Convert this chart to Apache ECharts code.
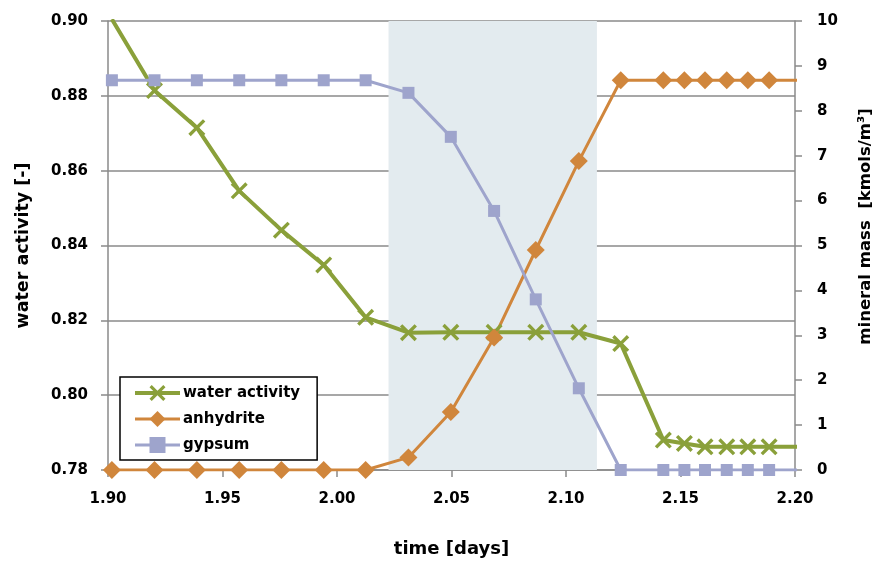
<!DOCTYPE html>
<html>
<head>
<meta charset="utf-8">
<script src="https://cdn.jsdelivr.net/npm/echarts@6/dist/echarts.min.js"></script>
<style>
html,body{margin:0;padding:0;background:#fff;}
#chart{width:883px;height:563px;}
</style>
</head>
<body>
<div id="chart"></div>
<script>
// time points (days); the last point lies beyond the axis max and is clipped
const times = [1.9017, 1.9203, 1.9388, 1.9573, 1.9757, 1.9942, 2.0125, 2.0312, 2.0497, 2.0686,
               2.0868, 2.1056, 2.1239, 2.1425, 2.1517, 2.1607, 2.1702, 2.1794, 2.1887, 2.2100];
const waterActivity = [0.9005, 0.8814, 0.8715, 0.8546, 0.8441, 0.8348, 0.8208, 0.8167, 0.8168, 0.8168,
                       0.8168, 0.8168, 0.8138, 0.7880, 0.7871, 0.7862, 0.7862, 0.7862, 0.7862, 0.7862];
const anhydrite = [0, 0, 0, 0, 0, 0, 0, 0.28, 1.29, 2.95,
                   4.90, 6.88, 8.68, 8.68, 8.68, 8.68, 8.68, 8.68, 8.68, 8.68];
const gypsum = [8.68, 8.68, 8.68, 8.68, 8.68, 8.68, 8.68, 8.40, 7.42, 5.77,
                3.80, 1.82, 0, 0, 0, 0, 0, 0, 0, 0];
const seriesNames = ['water activity', 'anhydrite', 'gypsum'];
const shadedRange = [2.0225, 2.1135];
const xTicks = {min: 1.90, max: 2.20, interval: 0.05};
const leftTicks = {min: 0.78, max: 0.90, interval: 0.02};
const rightTicks = {min: 0, max: 10, interval: 1};

const FONT = 'DejaVu Sans';
const GRID_COLOR = '#8a8a8a';
const pair = (arr) => times.map((t, i) => [t, arr[i]]);
const xSymbol = 'path://M0,1.4 L1.4,0 L5,3.6 L8.6,0 L10,1.4 L6.4,5 L10,8.6 L8.6,10 L5,6.4 L1.4,10 L0,8.6 L3.6,5 Z';

// water activity: first point sits on the top edge where its marker is clipped away in the original
const waterData = pair(waterActivity).map((p, i) => i === 0 ? {value: p, symbol: 'none'} : p);

const chart = echarts.init(document.getElementById('chart'), null, {renderer: 'canvas'});
const axisCommon = {
  axisLine: {show: true, lineStyle: {color: GRID_COLOR, width: 1.5}},
  axisTick: {show: true, inside: false, length: 7, lineStyle: {color: GRID_COLOR, width: 1.5}},
  axisLabel: {color: '#000', fontFamily: FONT, fontWeight: 'bold', fontSize: 15},
  nameTextStyle: {color: '#000', fontFamily: FONT, fontWeight: 'bold'}
};
chart.setOption({
  animation: false,
  backgroundColor: '#fff',
  grid: {left: 108, right: 88, top: 21, bottom: 93, containLabel: false},
  legend: {
    orient: 'vertical', left: 120, top: 377,
    padding: [6, 17, 5, 13],
    backgroundColor: '#fff', borderColor: '#000', borderWidth: 1.5, borderRadius: 0,
    itemWidth: 45, itemHeight: 20, itemGap: 6,
    data: [
      {name: seriesNames[0], lineStyle: {width: 4}},
      {name: seriesNames[1], lineStyle: {width: 3}},
      {name: seriesNames[2], lineStyle: {width: 3}}
    ],
    textStyle: {color: '#000', fontFamily: FONT, fontWeight: 'bold', fontSize: 15, lineHeight: 20, padding: [0, 0, 0, -2]}
  },
  xAxis: Object.assign({}, axisCommon, {
    type: 'value', min: xTicks.min, max: xTicks.max, interval: xTicks.interval,
    name: 'time [days]', nameLocation: 'middle', nameGap: 70,
    nameTextStyle: Object.assign({}, axisCommon.nameTextStyle, {fontSize: 18}),
    splitLine: {show: false},
    axisLabel: Object.assign({}, axisCommon.axisLabel, {margin: 22, formatter: v => v.toFixed(2)})
  }),
  yAxis: [
    Object.assign({}, axisCommon, {
      type: 'value', position: 'left', min: leftTicks.min, max: leftTicks.max, interval: leftTicks.interval,
      name: 'water activity [-]', nameLocation: 'middle', nameGap: 76, nameRotate: 90,
      nameTextStyle: Object.assign({}, axisCommon.nameTextStyle, {fontSize: 17.5}),
      splitLine: {show: true, lineStyle: {color: GRID_COLOR, width: 1.5}},
      axisLabel: Object.assign({}, axisCommon.axisLabel, {margin: 20, formatter: v => v.toFixed(2)})
    }),
    Object.assign({}, axisCommon, {
      type: 'value', position: 'right', min: rightTicks.min, max: rightTicks.max, interval: rightTicks.interval,
      name: 'mineral mass  [kmols/m\u00b3]', nameLocation: 'middle', nameGap: 62, nameRotate: 90,
      nameTextStyle: Object.assign({}, axisCommon.nameTextStyle, {fontSize: 16.5, padding: [0, 0, 0, 38]}),
      splitLine: {show: false},
      axisLabel: Object.assign({}, axisCommon.axisLabel, {margin: 22})
    })
  ],
  series: [
    {
      name: seriesNames[0], type: 'line', yAxisIndex: 0, data: waterData,
      symbol: xSymbol, symbolSize: 17, showAllSymbol: true,
      lineStyle: {color: '#8aa03a', width: 4},
      itemStyle: {color: '#8aa03a'},
      markArea: {
        silent: true,
        itemStyle: {color: '#e3ebef'},
        data: [[{xAxis: shadedRange[0]}, {xAxis: shadedRange[1]}]]
      }
    },
    {
      name: seriesNames[1], type: 'line', yAxisIndex: 1, data: pair(anhydrite),
      symbol: 'diamond', symbolSize: 18, showAllSymbol: true,
      lineStyle: {color: '#d0863c', width: 3},
      itemStyle: {color: '#d0863c'}
    },
    {
      name: seriesNames[2], type: 'line', yAxisIndex: 1, data: pair(gypsum),
      symbol: 'rect', symbolSize: 12, showAllSymbol: true,
      lineStyle: {color: '#9ea4cc', width: 3},
      itemStyle: {color: '#9ea4cc'}
    }
  ]
});
</script>
</body>
</html>
